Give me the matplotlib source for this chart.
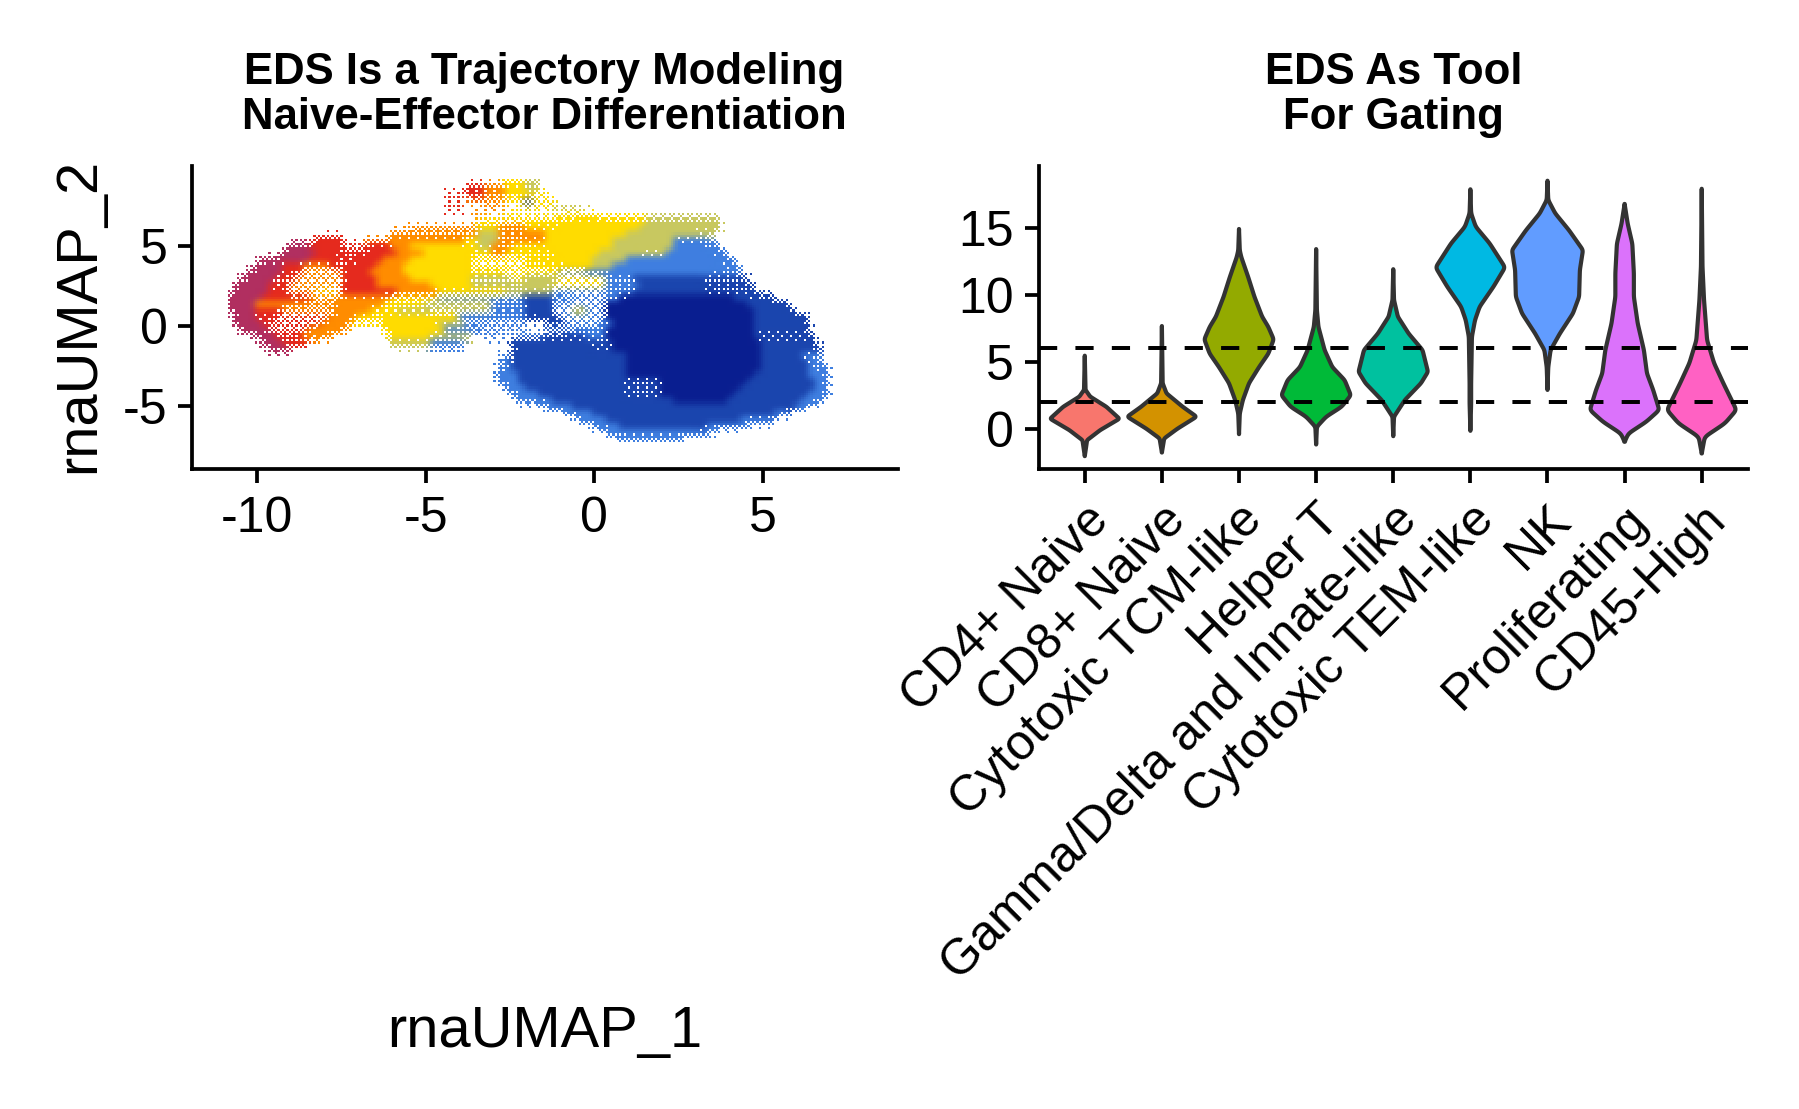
import numpy as np
import matplotlib
matplotlib.use("Agg")
import matplotlib.pyplot as plt
from matplotlib.colors import to_rgb

plt.rcParams["font.family"] = ["Liberation Sans", "DejaVu Sans"]
plt.rcParams["axes.unicode_minus"] = False

W, H = 1799, 1109

# digit = dense, lowercase = sparse, uppercase = very sparse (0 low EDS ... 7 high EDS)
umap_x0, umap_y0 = -10.88, 9.125
umap_dx, umap_dy = 0.2, 0.4
umap_ncol = 90
umap_colors = ["#B12F60", "#E52A1E", "#FF8C00", "#FFDC00", "#C8C860", "#3F7FE0", "#1B45AE", "#0A1E90"]
umap_rows = [
    "41-43 d 44-45 e",
    "35-37 1 38-40 2 41-43 3 44-45 e 46-46 D",
    "32-35 B 36-37 b 38-40 c 41-44 d 45-47 D",
    "35-40 C 41-43 D 44-44 g 45-48 D",
    "32-34 B 38-40 C 43-47 D 48-52 E",
    "36-37 C 41-43 D 49-54 D",
    "37-43 D 44-50 d 51-61 3 62-72 4",
    "27-36 C 37-39 3 40-43 c 44-48 d 49-60 3 61-72 4",
    "24-33 c 34-36 c 37-39 4 40-43 c 44-46 2 47-58 3 59-68 4 69-71 e",
    "13-16 1 20-23 C 24-34 2 35-36 d 37-39 4 40-46 c 47-56 3 57-65 4 66-70 f 71-71 F",
    "9-11 0 12-16 1 17-20 B 21-23 1 24-26 2 27-34 3 35-36 d 37-38 4 39-41 c 42-45 d 46-56 3 57-65 4 66-70 5 71-72 f",
    "8-12 0 13-16 1 17-19 b 20-24 1 25-28 2 29-35 3 36-38 d 39-40 c 41-47 d 48-54 3 55-60 4 61-64 e 65-71 5 72-73 f",
    "5-8 a 9-11 0 12-15 1 16-18 b 19-22 1 23-26 2 27-35 3 36-43 D 44-48 d 49-53 3 54-58 4 59-72 5 73-74 f",
    "4-7 0 8-10 1 11-14 c 15-17 b 18-21 1 22-25 2 26-35 3 36-43 D 44-46 d 47-53 3 54-56 4 57-73 5 74-75 f",
    "3-7 0 8-10 b 11-16 C 17-20 1 21-25 2 26-35 3 36-40 d 41-48 D 49-52 F 53-55 f 56-71 5 72-75 f",
    "2-6 0 7-9 b 10-16 C 17-21 1 22-26 2 27-35 3 36-41 e 42-43 D 44-48 4 49-55 D 56-59 f 60-69 6 70-76 g",
    "1-5 0 6-8 b 9-16 C 17-21 1 22-29 2 30-35 3 36-43 e 44-47 4 48-55 D 56-60 f 61-70 6 71-77 g",
    "1-5 0 6-8 1 9-12 C 13-15 D 17-24 1 25-30 2 31-40 d 41-47 e 48-55 F 56-59 f 60-70 6 71-77 g",
    "0-4 0 5-8 1 9-11 b 12-15 C 16-23 c 24-30 D 31-43 F 44-47 6 48-50 f 51-55 F 56-57 f 58-74 7 75-80 6",
    "0-3 0 4-10 2 11-15 c 16-22 2 23-28 d 29-38 e 39-43 f 44-47 6 48-55 F 56-76 7 77-82 6",
    "0-3 0 4-7 1 8-15 C 16-20 2 21-24 d 25-29 e 30-38 E 39-43 f 44-47 6 48-50 F 51-52 e 53-55 F 56-77 7 78-83 6",
    "1-3 0 4-6 b 7-14 B 15-18 2 19-22 d 23-33 3 34-43 f 44-48 6 49-55 F 56-77 7 78-85 6",
    "1-4 0 5-6 b 7-13 B 14-17 2 18-22 D 23-30 3 31-34 e 35-43 F 47-49 g 50-54 F 55-56 f 57-77 7 78-85 6",
    "2-5 0 6-11 B 12-16 2 23-31 3 32-37 f 38-44 F 46-50 F 51-55 f 56-77 7 78-85 6",
    "4-6 0 7-10 b 11-14 2 24-29 3 30-35 e 38-40 F 42-46 F 47-52 g 53-55 f 56-77 7 78-86 g",
    "5-7 0 8-11 b 24-29 4 30-34 f 42-53 6 54-56 g 57-78 7 79-86 6",
    "6-8 0 30-34 F 42-53 6 54-56 g 57-78 7 79-87 6",
    "40-41 F 42-58 6 59-78 7 79-84 6 85-87 f",
    "40-41 f 42-58 6 59-78 7 79-85 6 86-87 f",
    "40-41 f 42-58 6 59-78 7 79-85 6 86-88 f",
    "40-42 5 43-58 6 59-77 7 78-85 6 86-88 5",
    "40-42 5 43-58 6 59-63 g 64-76 7 77-86 6 87-88 5",
    "41-43 5 44-58 6 59-63 g 64-75 7 76-86 6 87-88 5",
    "42-45 5 46-58 6 59-63 g 64-74 7 75-85 6 86-88 5",
    "43-47 5 48-65 6 66-73 7 74-84 6 85-87 5",
    "47-50 5 51-83 6 84-85 5",
    "50-53 5 54-80 6 81-82 5",
    "52-55 5 56-75 6 76-80 5",
    "54-57 5 58-70 6 71-76 f",
    "56-68 5 69-71 f",
    "58-66 f",
]

cell_types = ["CD4+ Naive", "CD8+ Naive", "Cytotoxic TCM-like", "Helper T",
              "Gamma/Delta and Innate-like", "Cytotoxic TEM-like", "NK",
              "Proliferating", "CD45-High"]
violin_colors = ["#F8766D", "#D39200", "#93AA00", "#00BA38", "#00C19F",
                 "#00B9E3", "#619CFF", "#DB72FB", "#FF61C3"]

# violin outlines: EDS value and half width
v_y = [
    [5.45, 2.9, 2.4, 1.64, 0.75, -0.1, -0.85, -2.04],
    [7.66, 3.4, 2.64, 1.64, 0.9, 0.0, -0.72, -1.77],
    [14.9, 13.3, 12.8, 11.3, 9.85, 8.36, 7.6, 6.67, 5.6, 4.6, 3.4, 2.14, 1.14, -0.4],
    [13.4, 8.85, 7.6, 5.87, 4.6, 3.63, 2.5, 1.64, 0.9, 0.15, -1.17],
    [11.9, 9.6, 8.36, 7.1, 5.87, 4.25, 3.4, 2.14, 0.9, -0.55],
    [17.86, 16.07, 15.07, 13.83, 12.04, 10.6, 9.1, 8.1, 6.87, 3.4, 1.9, -0.15],
    [18.5, 17.06, 16.07, 14.8, 13.33, 11.84, 9.85, 8.6, 7.1, 5.87, 4.6, 2.9],
    [16.77, 15.3, 13.8, 11.6, 9.85, 7.86, 5.87, 4.13, 2.9, 1.4, 0.52, -0.35, -0.97],
    [17.9, 12.1, 9.6, 6.6, 4.9, 3.4, 1.4, 0.4, -0.6, -1.84],
]
v_w = [
    [0, 0.01, 0.07, 0.28, 0.45, 0.2, 0.03, 0],
    [0, 0.01, 0.06, 0.27, 0.45, 0.2, 0.03, 0],
    [0, 0.01, 0.03, 0.12, 0.2, 0.3, 0.38, 0.45, 0.38, 0.26, 0.13, 0.05, 0.01, 0],
    [0, 0.01, 0.03, 0.11, 0.21, 0.37, 0.45, 0.33, 0.13, 0.01, 0],
    [0, 0.01, 0.06, 0.2, 0.38, 0.45, 0.36, 0.15, 0.01, 0],
    [0, 0.01, 0.07, 0.25, 0.45, 0.3, 0.12, 0.06, 0.02, 0.01, 0.01, 0],
    [0, 0.01, 0.1, 0.28, 0.46, 0.42, 0.41, 0.33, 0.16, 0.04, 0.01, 0],
    [0, 0.04, 0.1, 0.12, 0.12, 0.17, 0.25, 0.29, 0.37, 0.45, 0.28, 0.05, 0],
    [0, 0.01, 0.03, 0.07, 0.16, 0.28, 0.45, 0.3, 0.04, 0],
]
gate_levels = [2, 6]


def px_axes(x0, x1, y0, y1):
    # axes box given in picture pixels
    return fig.add_axes([x0 / W, 1 - y1 / H, (x1 - x0) / W, (y1 - y0) / H])


def style_axes(ax):
    ax.spines[["top", "right"]].set_visible(False)
    ax.spines[["left", "bottom"]].set_linewidth(0.9)
    ax.tick_params(length=3.4, width=0.9, labelsize=12, pad=2.5)
    ax.tick_params(axis="x", pad=3.2)


def blur(a, size=9):
    win = np.hanning(size)
    win /= win.sum()
    a = np.apply_along_axis(lambda v: np.convolve(v, win, mode="same"), 0, a)
    return np.apply_along_axis(lambda v: np.convolve(v, win, mode="same"), 1, a)


def umap_image(sub=3):
    # grid -> soft colour and density, then an ordered dither to get the grainy look
    nrow = len(umap_rows)
    rgb = np.zeros((nrow, umap_ncol, 3))
    dens = np.zeros((nrow, umap_ncol))
    for i, row in enumerate(umap_rows):
        parts = row.split()
        for span, code in zip(parts[::2], parts[1::2]):
            a, b = map(int, span.split("-"))
            if code.isdigit():
                idx, d = int(code), 1.0
            elif code.islower():
                idx, d = ord(code) - ord("a"), 0.82
            else:
                idx, d = ord(code) - ord("A"), 0.35
            rgb[i, a:b + 1] = to_rgb(umap_colors[idx])
            dens[i, a:b + 1] = d
    rgb = rgb.repeat(sub, 0).repeat(sub, 1)
    dens = dens.repeat(sub, 0).repeat(sub, 1)
    soft = blur(dens)
    col = np.dstack([blur(rgb[..., k] * dens) for k in range(3)]) / np.maximum(soft, 1e-6)[..., None]
    bayer = (np.array([[0, 8, 2, 10], [12, 4, 14, 6], [3, 11, 1, 9], [15, 7, 13, 5]]) + 0.5) / 16
    ny, nx = soft.shape
    thresh = np.tile(bayer, (ny // 4 + 1, nx // 4 + 1))[:ny, :nx]
    img = np.ones((ny, nx, 3))
    keep = soft > thresh
    img[keep] = np.clip(col[keep], 0, 1)
    return img


def smooth_outline(ys, ws):
    y = np.linspace(ys[0], ys[-1], 300)
    w = np.interp(-y, -np.array(ys), ws)
    win = np.hanning(13)
    win /= win.sum()
    w = np.convolve(np.pad(w, 6, mode="edge"), win, mode="valid")
    return y, w


fig = plt.figure(figsize=(W / 300, H / 300), dpi=300)

ax1 = px_axes(192, 897.6, 166, 469)
img = umap_image()
ax1.imshow(img, interpolation="nearest", aspect="auto",
           extent=[umap_x0, umap_x0 + umap_ncol * umap_dx,
                   umap_y0 - len(umap_rows) * umap_dy, umap_y0])
ax1.set_xlim(-11.94, 9.0)
ax1.set_ylim(-8.94, 10.0)
ax1.set_xticks([-10, -5, 0, 5])
ax1.set_yticks([-5, 0, 5])
style_axes(ax1)

ax2 = px_axes(1038.5, 1748, 166, 469)
for i, (ys, ws, col) in enumerate(zip(v_y, v_w, violin_colors)):
    y, w = smooth_outline(ys, ws)
    ax2.fill(np.r_[i + 1 - w, (i + 1 + w)[::-1]], np.r_[y, y[::-1]], facecolor=col,
             edgecolor="#333333", linewidth=1.0, joinstyle="round")
for lev in gate_levels:
    ax2.axhline(lev, color="black", linewidth=0.95, linestyle=(0, (4.6, 4.6)), zorder=5)
ax2.set_xlim(0.4, 9.6)
ax2.set_ylim(-3.0, 19.6)
ax2.set_yticks([0, 5, 10, 15])
ax2.set_xticks(range(1, 10))
ax2.set_xticklabels(cell_types, rotation=45, ha="right", rotation_mode="anchor")
style_axes(ax2)

fig.text(544.6 / W, 1 - 95 / H, "EDS Is a Trajectory Modeling\nNaive-Effector Differentiation",
         ha="center", va="center", fontsize=10.5, fontweight="bold", linespacing=1.1)
fig.text(1393.5 / W, 1 - 95 / H, "EDS As Tool\nFor Gating",
         ha="center", va="center", fontsize=10.5, fontweight="bold", linespacing=1.1)
fig.text(544.7 / W, 1 - 1032 / H, "rnaUMAP_1", ha="center", va="center", fontsize=13.9)
fig.text(79 / W, 1 - 315.5 / H, "rnaUMAP_2", ha="center", va="center", rotation=90, fontsize=13.9)

fig.savefig("out.png", dpi=300)
